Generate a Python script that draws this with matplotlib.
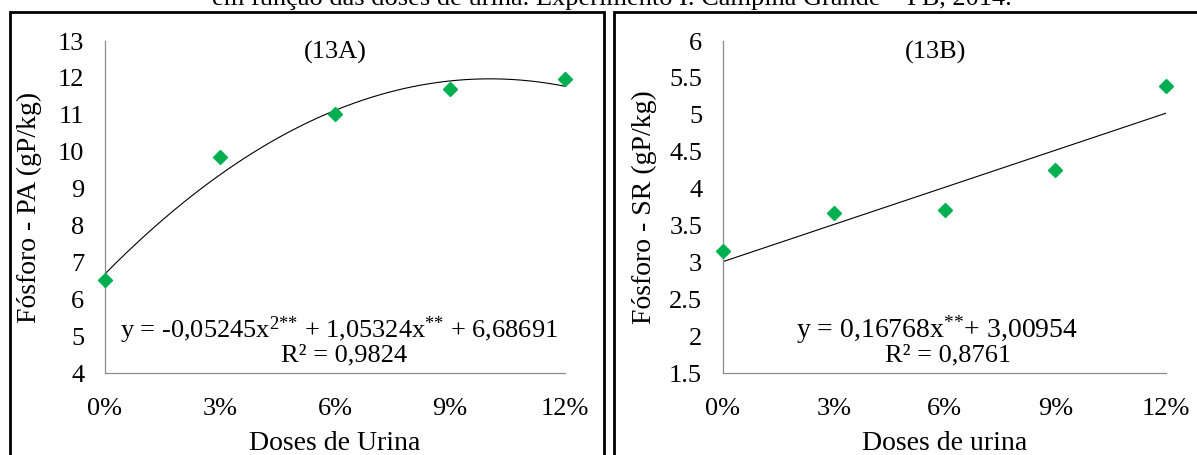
import numpy as np
import matplotlib.pyplot as plt
from matplotlib.patches import Rectangle

plt.rcParams["font.family"] = ["Liberation Serif", "DejaVu Serif"]
plt.rcParams["mathtext.fontset"] = "custom"
plt.rcParams["mathtext.rm"] = "Liberation Serif"
plt.rcParams["mathtext.it"] = "Liberation Serif:italic"

# data
doses = [0, 3, 6, 9, 12]
dose_labels = ["0%", "3%", "6%", "9%", "12%"]
pa_values = [6.52, 9.85, 11.02, 11.70, 11.98]
sr_values = [3.16, 3.67, 3.71, 4.25, 5.39]

# regression coefficients printed on the chart
pa_coef = [-0.05245, 1.05324, 6.68691]
sr_coef = [0.16768, 3.00954]

W, H = 1197, 455
GREEN = "#00B050"
AXIS_GRAY = "#8c8c8c"
FS = 19


def px_axes(fig, x0, x1, y_top, y_bot):
    return fig.add_axes([x0 / W, (H - y_bot) / H, (x1 - x0) / W, (y_bot - y_top) / H])


def style_axes(ax, ylim, yticks, ylabels):
    ax.set_xlim(0, 12)
    ax.set_ylim(*ylim)
    ax.set_xticks(doses)
    ax.set_xticklabels(dose_labels)
    ax.set_yticks(yticks)
    ax.set_yticklabels(ylabels)
    for s in ("top", "right"):
        ax.spines[s].set_visible(False)
    for s in ("left", "bottom"):
        ax.spines[s].set_color(AXIS_GRAY)
        ax.spines[s].set_linewidth(0.9)
    ax.tick_params(length=0, labelsize=FS, colors="black")
    ax.tick_params(axis="x", pad=18)
    ax.tick_params(axis="y", pad=15)
    ax.patch.set_alpha(0)


fig = plt.figure(figsize=(W / 100, H / 100), dpi=100)

# panel frames
fig.patches.append(Rectangle((10 / W, -0.1), 594 / W, (H - 12) / H + 0.1,
                             transform=fig.transFigure, fill=False, lw=2, ec="black"))
fig.patches.append(Rectangle((614 / W, -0.1), 600 / W, (H - 12) / H + 0.1,
                             transform=fig.transFigure, fill=False, lw=2, ec="black"))

# caption, cut off at the top of the image in the source
fig.text(612 / W, 1.0 - 5 / H, "em função das doses de urina. Experimento I. Campina Grande – PB, 2014.",
         ha="center", va="baseline", fontsize=FS)

xs = np.linspace(0, 12, 200)

# (13A)
ax1 = px_axes(fig, 105, 565, 41, 373)
ax1.plot(xs, np.polyval(pa_coef, xs), color="black", lw=0.8)
ax1.plot(doses, pa_values, "D", color=GREEN, ms=7.5, mec=GREEN, clip_on=False, zorder=3)
style_axes(ax1, (4, 13), range(4, 14), [str(v) for v in range(4, 14)])
ax1.set_ylabel("Fósforo - PA (gP/kg)", fontsize=FS + 1, labelpad=11)
ax1.set_xlabel("Doses de Urina", fontsize=FS + 1, labelpad=8)
ax1.text(0.5, 0.965, "(13A)", transform=ax1.transAxes, ha="center", va="center", fontsize=FS)
ax1.text(0.509, 0.13, "y = -0,05245x$^{2{*}{*}}$ + 1,05324x$^{{*}{*}}$ + 6,68691",
         transform=ax1.transAxes, ha="center", va="center", fontsize=FS)
ax1.text(0.52, 0.052, "R² = 0,9824", transform=ax1.transAxes, ha="center", va="center", fontsize=FS)

# (13B)
ax2 = px_axes(fig, 723, 1166, 41, 373)
ax2.plot(xs, np.polyval(sr_coef, xs), color="black", lw=0.8)
ax2.plot(doses, sr_values, "D", color=GREEN, ms=7.5, mec=GREEN, clip_on=False, zorder=3)
yt = np.arange(1.5, 6.01, 0.5)
style_axes(ax2, (1.5, 6), yt, ["%g" % v for v in yt])
ax2.set_ylabel("Fósforo - SR (gP/kg)", fontsize=FS + 1, labelpad=9)
ax2.set_xlabel("Doses de urina", fontsize=FS + 1, labelpad=8)
ax2.text(0.48, 0.965, "(13B)", transform=ax2.transAxes, ha="center", va="center", fontsize=FS)
ax2.text(0.483, 0.13, "y = 0,16768x$^{{*}{*}}$+ 3,00954",
         transform=ax2.transAxes, ha="center", va="center", fontsize=FS + 1)
ax2.text(0.507, 0.052, "R² = 0,8761", transform=ax2.transAxes, ha="center", va="center", fontsize=FS)

fig.savefig("out.png", dpi=100)
